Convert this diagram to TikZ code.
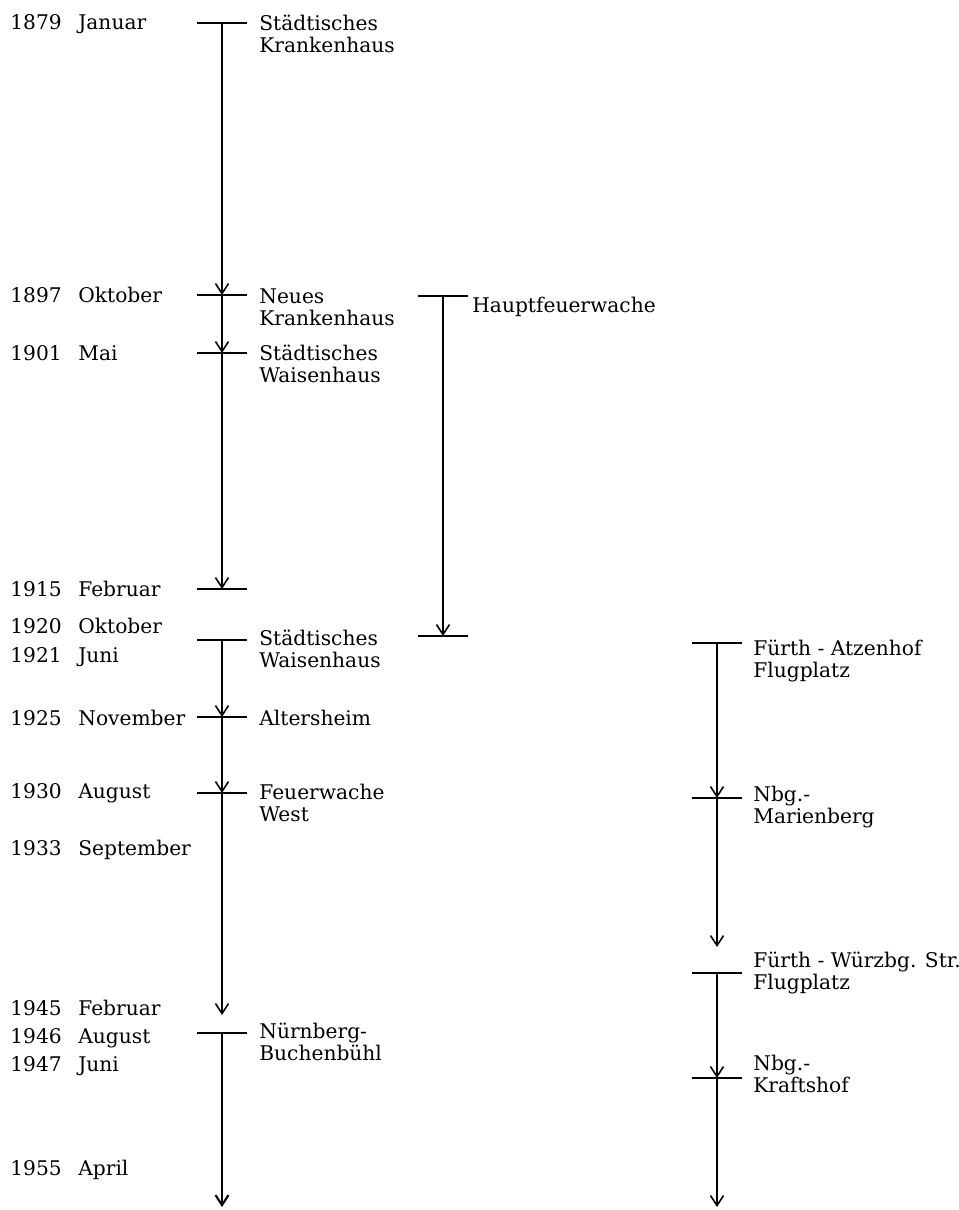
\documentclass[tikz,border=0pt]{standalone}
\usepackage{fontspec}
\setmainfont{DejaVu Serif}
\usetikzlibrary{arrows.meta}
\begin{document}
\begin{tikzpicture}[x=0.02cm,y=-0.02cm,
   bar/.style={black,line width=0.9pt},
   flow/.style={bar,-{Straight Barb[length=2mm,width=2.6mm]}},
   txt/.style={anchor=base west,inner sep=0pt,align=left,
     font=\fontsize{11.5}{12.5}\selectfont}]
   \useasboundingbox (0,0) rectangle (959,1210);
   \node [txt] (y1879) at (10,30) {1879};
   \node [txt] (m1879) at (78,30) {Januar};
   \node [txt] (y1897) at (10,302) {1897};
   \node [txt] (m1897) at (78,302) {Oktober};
   \node [txt] (y1901) at (10,360) {1901};
   \node [txt] (m1901) at (78,360) {Mai};
   \node [txt] (y1915) at (10,596) {1915};
   \node [txt] (m1915) at (78,596) {Februar};
   \node [txt] (y1920) at (10,633) {1920};
   \node [txt] (m1920) at (78,633) {Oktober};
   \node [txt] (y1921) at (10,662) {1921};
   \node [txt] (m1921) at (78,662) {Juni};
   \node [txt] (y1925) at (10,725) {1925};
   \node [txt] (m1925) at (78,725) {November};
   \node [txt] (y1930) at (10,798) {1930};
   \node [txt] (m1930) at (78,798) {August};
   \node [txt] (y1933) at (10,855) {1933};
   \node [txt] (m1933) at (78,855) {September};
   \node [txt] (y1945) at (10,1015) {1945};
   \node [txt] (m1945) at (78,1015) {Februar};
   \node [txt] (y1946) at (10,1043) {1946};
   \node [txt] (m1946) at (78,1043) {August};
   \node [txt] (y1947) at (10,1071) {1947};
   \node [txt] (m1947) at (78,1071) {Juni};
   \node [txt] (y1955) at (10,1175) {1955};
   \node [txt] (m1955) at (78,1175) {April};
   \coordinate (a1879) at (222,23);
   \coordinate (a1897) at (222,295);
   \coordinate (a1901) at (222,353);
   \coordinate (a1915) at (222,589);
   \coordinate (a1920) at (222,640);
   \coordinate (a1925) at (222,717);
   \coordinate (a1930) at (222,793);
   \coordinate (a1945) at (222,1015);
   \coordinate (a1946) at (222,1033);
   \coordinate (a1955) at (222,1207);
   \coordinate (h1897) at (443,296);
   \coordinate (h1920) at (443,636);
   \coordinate (f1921) at (717,643);
   \coordinate (f1933) at (717,798);
   \coordinate (f1945) at (717,947);
   \coordinate (f1946) at (717,973);
   \coordinate (f1955) at (717,1078);
   \coordinate (f1960) at (717,1207);
   \draw [bar] (a1879) +(-25,0) -- +(25,0);
   \draw [bar] (a1897) +(-25,0) -- +(25,0);
   \draw [bar] (a1901) +(-25,0) -- +(25,0);
   \draw [bar] (a1915) +(-25,0) -- +(25,0);
   \draw [bar] (a1920) +(-25,0) -- +(25,0);
   \draw [bar] (a1925) +(-25,0) -- +(25,0);
   \draw [bar] (a1930) +(-25,0) -- +(25,0);
   \draw [bar] (a1946) +(-25,0) -- +(25,0);
   \draw [bar] (h1897) +(-25,0) -- +(25,0);
   \draw [bar] (h1920) +(-25,0) -- +(25,0);
   \draw [bar] (f1921) +(-25,0) -- +(25,0);
   \draw [bar] (f1933) +(-25,0) -- +(25,0);
   \draw [bar] (f1946) +(-25,0) -- +(25,0);
   \draw [bar] (f1955) +(-25,0) -- +(25,0);
   \draw [flow] (a1879) -- (a1897);
   \draw [flow] (a1897) -- (a1901);
   \draw [flow] (a1901) -- (a1915);
   \draw [flow] (a1920) -- (a1925);
   \draw [flow] (a1925) -- (a1930);
   \draw [flow] (a1930) -- (a1945);
   \draw [flow,line width=1.2pt] (a1946) -- (a1955);
   \draw [flow] (h1897) -- (h1920);
   \draw [flow] (f1921) -- (f1933);
   \draw [flow] (f1933) -- (f1945);
   \draw [flow] (f1946) -- (f1955);
   \draw [flow] (f1955) -- (f1960);
   \node [txt] (krankenhaus) at (259,52) {Städtisches\\Krankenhaus};
   \node [txt] (neu) at (259,325) {Neues\\Krankenhaus};
   \node [txt] (waisen) at (259,382) {Städtisches\\Waisenhaus};
   \node [txt] (haupt) at (472,312) {Hauptfeuerwache};
   \node [txt] (waisen2) at (259,667) {Städtisches\\Waisenhaus};
   \node [txt] (alter) at (259,725) {Altersheim};
   \node [txt] (west) at (259,821) {Feuerwache\\West};
   \node [txt] (buchen) at (259,1060) {Nürnberg-\\Buchenbühl};
   \node [txt] (atzen) at (753,677) {Fürth - Atzenhof\\Flugplatz};
   \node [txt] (marien) at (753,823) {Nbg.-\\Marienberg};
   \node [txt] (wuerz) at (753,989) {Fürth - Würzbg. Str.\\Flugplatz};
   \node [txt] (krafts) at (753,1092) {Nbg.-\\Kraftshof};
\end{tikzpicture}
\end{document}
